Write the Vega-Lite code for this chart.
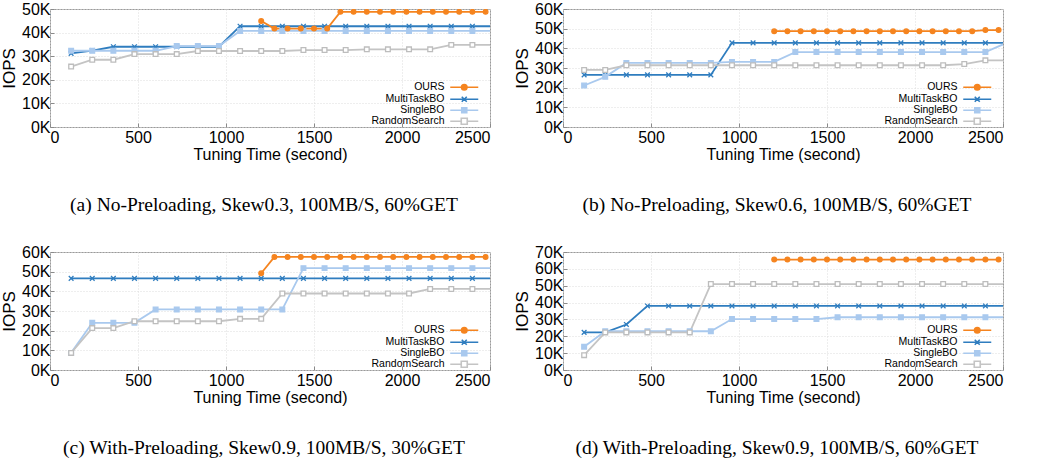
{
  "$schema": "https://vega.github.io/schema/vega-lite/v6.json",
  "padding": {"left": 0, "top": 0, "right": 0, "bottom": 0},
  "config": {
    "font": "Liberation Sans",
    "view": {"stroke": "#9a9a9a", "strokeWidth": 1},
    "axis": {
      "grid": true, "gridColor": "#dcdcdc", "gridDash": [1, 2], "gridWidth": 1,
      "domain": false, "tickColor": "#8a8a8a", "tickSize": -4,
      "labelFont": "Liberation Sans", "labelFontSize": 16, "labelColor": "black",
      "titleFont": "Liberation Sans", "titleFontSize": 16, "titleFontWeight": "normal", "titleColor": "black"
    },
    "axisX": {"labelPadding": 6, "titlePadding": 1, "format": "d"},
    "axisY": {"labelPadding": 4, "titlePadding": 3, "titleFontSize": 17},
    "title": {"font": "Liberation Serif", "fontSize": 19.5, "fontWeight": "normal", "color": "black", "orient": "bottom", "offset": 34, "dx": -6}
  },
  "datasets": {
    "a": [
      {"m":"MultiTaskBO","t":120,"v":31200},{"m":"MultiTaskBO","t":240,"v":32400},{"m":"MultiTaskBO","t":360,"v":34000},{"m":"MultiTaskBO","t":480,"v":34000},{"m":"MultiTaskBO","t":600,"v":34000},{"m":"MultiTaskBO","t":720,"v":34000},{"m":"MultiTaskBO","t":840,"v":34000},{"m":"MultiTaskBO","t":960,"v":34000},{"m":"MultiTaskBO","t":1080,"v":42700},{"m":"MultiTaskBO","t":1200,"v":42700},{"m":"MultiTaskBO","t":1320,"v":42700},{"m":"MultiTaskBO","t":1440,"v":42700},{"m":"MultiTaskBO","t":1560,"v":42700},{"m":"MultiTaskBO","t":1680,"v":42700},{"m":"MultiTaskBO","t":1800,"v":42700},{"m":"MultiTaskBO","t":1920,"v":42700},{"m":"MultiTaskBO","t":2040,"v":42700},{"m":"MultiTaskBO","t":2160,"v":42700},{"m":"MultiTaskBO","t":2280,"v":42700},{"m":"MultiTaskBO","t":2400,"v":42700},{"m":"MultiTaskBO","t":2500,"v":42700},
      {"m":"SingleBO","t":120,"v":32300},{"m":"SingleBO","t":240,"v":32300},{"m":"SingleBO","t":360,"v":32300},{"m":"SingleBO","t":480,"v":32300},{"m":"SingleBO","t":600,"v":32300},{"m":"SingleBO","t":720,"v":34300},{"m":"SingleBO","t":840,"v":34300},{"m":"SingleBO","t":960,"v":34300},{"m":"SingleBO","t":1080,"v":40700},{"m":"SingleBO","t":1200,"v":40700},{"m":"SingleBO","t":1320,"v":40700},{"m":"SingleBO","t":1440,"v":40700},{"m":"SingleBO","t":1560,"v":40700},{"m":"SingleBO","t":1680,"v":40700},{"m":"SingleBO","t":1800,"v":40700},{"m":"SingleBO","t":1920,"v":40700},{"m":"SingleBO","t":2040,"v":40700},{"m":"SingleBO","t":2160,"v":40700},{"m":"SingleBO","t":2280,"v":40700},{"m":"SingleBO","t":2400,"v":40700},{"m":"SingleBO","t":2500,"v":40700},
      {"m":"RandomSearch","t":120,"v":25600},{"m":"RandomSearch","t":240,"v":28500},{"m":"RandomSearch","t":360,"v":28500},{"m":"RandomSearch","t":480,"v":30900},{"m":"RandomSearch","t":600,"v":30900},{"m":"RandomSearch","t":720,"v":30900},{"m":"RandomSearch","t":840,"v":32200},{"m":"RandomSearch","t":960,"v":32200},{"m":"RandomSearch","t":1080,"v":32200},{"m":"RandomSearch","t":1200,"v":32200},{"m":"RandomSearch","t":1320,"v":32200},{"m":"RandomSearch","t":1440,"v":32600},{"m":"RandomSearch","t":1560,"v":32600},{"m":"RandomSearch","t":1680,"v":32600},{"m":"RandomSearch","t":1800,"v":32900},{"m":"RandomSearch","t":1920,"v":32900},{"m":"RandomSearch","t":2040,"v":32900},{"m":"RandomSearch","t":2160,"v":32900},{"m":"RandomSearch","t":2280,"v":34800},{"m":"RandomSearch","t":2400,"v":34800},{"m":"RandomSearch","t":2500,"v":34800},
      {"m":"OURS","t":1200,"v":44900},{"m":"OURS","t":1275,"v":41700},{"m":"OURS","t":1350,"v":41700},{"m":"OURS","t":1425,"v":41700},{"m":"OURS","t":1500,"v":41700},{"m":"OURS","t":1575,"v":41700},{"m":"OURS","t":1650,"v":48800},{"m":"OURS","t":1725,"v":48800},{"m":"OURS","t":1800,"v":48800},{"m":"OURS","t":1875,"v":48800},{"m":"OURS","t":1950,"v":48800},{"m":"OURS","t":2025,"v":48800},{"m":"OURS","t":2100,"v":48800},{"m":"OURS","t":2175,"v":48800},{"m":"OURS","t":2250,"v":48800},{"m":"OURS","t":2325,"v":48800},{"m":"OURS","t":2400,"v":48800},{"m":"OURS","t":2475,"v":48800}
    ],
    "b": [
      {"m":"MultiTaskBO","t":120,"v":26500},{"m":"MultiTaskBO","t":240,"v":26500},{"m":"MultiTaskBO","t":360,"v":26500},{"m":"MultiTaskBO","t":480,"v":26500},{"m":"MultiTaskBO","t":600,"v":26500},{"m":"MultiTaskBO","t":720,"v":26500},{"m":"MultiTaskBO","t":840,"v":26500},{"m":"MultiTaskBO","t":960,"v":42800},{"m":"MultiTaskBO","t":1080,"v":42800},{"m":"MultiTaskBO","t":1200,"v":42800},{"m":"MultiTaskBO","t":1320,"v":42800},{"m":"MultiTaskBO","t":1440,"v":42800},{"m":"MultiTaskBO","t":1560,"v":42800},{"m":"MultiTaskBO","t":1680,"v":42800},{"m":"MultiTaskBO","t":1800,"v":42800},{"m":"MultiTaskBO","t":1920,"v":42800},{"m":"MultiTaskBO","t":2040,"v":42800},{"m":"MultiTaskBO","t":2160,"v":42800},{"m":"MultiTaskBO","t":2280,"v":42800},{"m":"MultiTaskBO","t":2400,"v":42800},{"m":"MultiTaskBO","t":2500,"v":42800},
      {"m":"SingleBO","t":120,"v":21100},{"m":"SingleBO","t":240,"v":25500},{"m":"SingleBO","t":360,"v":32600},{"m":"SingleBO","t":480,"v":32600},{"m":"SingleBO","t":600,"v":32600},{"m":"SingleBO","t":720,"v":32600},{"m":"SingleBO","t":840,"v":32600},{"m":"SingleBO","t":960,"v":33100},{"m":"SingleBO","t":1080,"v":33100},{"m":"SingleBO","t":1200,"v":33100},{"m":"SingleBO","t":1320,"v":38100},{"m":"SingleBO","t":1440,"v":38100},{"m":"SingleBO","t":1560,"v":38100},{"m":"SingleBO","t":1680,"v":38100},{"m":"SingleBO","t":1800,"v":38100},{"m":"SingleBO","t":1920,"v":38100},{"m":"SingleBO","t":2040,"v":38100},{"m":"SingleBO","t":2160,"v":38100},{"m":"SingleBO","t":2280,"v":38100},{"m":"SingleBO","t":2400,"v":38100},{"m":"SingleBO","t":2500,"v":42000},
      {"m":"RandomSearch","t":120,"v":29000},{"m":"RandomSearch","t":240,"v":29000},{"m":"RandomSearch","t":360,"v":31400},{"m":"RandomSearch","t":480,"v":31400},{"m":"RandomSearch","t":600,"v":31400},{"m":"RandomSearch","t":720,"v":31400},{"m":"RandomSearch","t":840,"v":31400},{"m":"RandomSearch","t":960,"v":31400},{"m":"RandomSearch","t":1080,"v":31400},{"m":"RandomSearch","t":1200,"v":31400},{"m":"RandomSearch","t":1320,"v":31400},{"m":"RandomSearch","t":1440,"v":31400},{"m":"RandomSearch","t":1560,"v":31400},{"m":"RandomSearch","t":1680,"v":31400},{"m":"RandomSearch","t":1800,"v":31400},{"m":"RandomSearch","t":1920,"v":31400},{"m":"RandomSearch","t":2040,"v":31400},{"m":"RandomSearch","t":2160,"v":31400},{"m":"RandomSearch","t":2280,"v":32000},{"m":"RandomSearch","t":2400,"v":33900},{"m":"RandomSearch","t":2500,"v":33900},
      {"m":"OURS","t":1200,"v":48700},{"m":"OURS","t":1275,"v":48700},{"m":"OURS","t":1350,"v":48700},{"m":"OURS","t":1425,"v":48700},{"m":"OURS","t":1500,"v":48700},{"m":"OURS","t":1575,"v":48700},{"m":"OURS","t":1650,"v":48700},{"m":"OURS","t":1725,"v":48700},{"m":"OURS","t":1800,"v":48700},{"m":"OURS","t":1875,"v":48700},{"m":"OURS","t":1950,"v":48700},{"m":"OURS","t":2025,"v":48700},{"m":"OURS","t":2100,"v":48700},{"m":"OURS","t":2175,"v":48700},{"m":"OURS","t":2250,"v":48700},{"m":"OURS","t":2325,"v":48700},{"m":"OURS","t":2400,"v":49300},{"m":"OURS","t":2475,"v":49300}
    ],
    "c": [
      {"m":"MultiTaskBO","t":120,"v":46600},{"m":"MultiTaskBO","t":240,"v":46600},{"m":"MultiTaskBO","t":360,"v":46600},{"m":"MultiTaskBO","t":480,"v":46600},{"m":"MultiTaskBO","t":600,"v":46600},{"m":"MultiTaskBO","t":720,"v":46600},{"m":"MultiTaskBO","t":840,"v":46600},{"m":"MultiTaskBO","t":960,"v":46600},{"m":"MultiTaskBO","t":1080,"v":46600},{"m":"MultiTaskBO","t":1200,"v":46600},{"m":"MultiTaskBO","t":1320,"v":46600},{"m":"MultiTaskBO","t":1440,"v":46600},{"m":"MultiTaskBO","t":1560,"v":46600},{"m":"MultiTaskBO","t":1680,"v":46600},{"m":"MultiTaskBO","t":1800,"v":46600},{"m":"MultiTaskBO","t":1920,"v":46600},{"m":"MultiTaskBO","t":2040,"v":46600},{"m":"MultiTaskBO","t":2160,"v":46600},{"m":"MultiTaskBO","t":2280,"v":46600},{"m":"MultiTaskBO","t":2400,"v":46600},{"m":"MultiTaskBO","t":2500,"v":46600},
      {"m":"SingleBO","t":120,"v":8700},{"m":"SingleBO","t":240,"v":24000},{"m":"SingleBO","t":360,"v":24000},{"m":"SingleBO","t":480,"v":24000},{"m":"SingleBO","t":600,"v":30800},{"m":"SingleBO","t":720,"v":30800},{"m":"SingleBO","t":840,"v":30800},{"m":"SingleBO","t":960,"v":30800},{"m":"SingleBO","t":1080,"v":30800},{"m":"SingleBO","t":1200,"v":30800},{"m":"SingleBO","t":1320,"v":30800},{"m":"SingleBO","t":1440,"v":51800},{"m":"SingleBO","t":1560,"v":51800},{"m":"SingleBO","t":1680,"v":51800},{"m":"SingleBO","t":1800,"v":51800},{"m":"SingleBO","t":1920,"v":51800},{"m":"SingleBO","t":2040,"v":51800},{"m":"SingleBO","t":2160,"v":51800},{"m":"SingleBO","t":2280,"v":51800},{"m":"SingleBO","t":2400,"v":51800},{"m":"SingleBO","t":2500,"v":51800},
      {"m":"RandomSearch","t":120,"v":8700},{"m":"RandomSearch","t":240,"v":21300},{"m":"RandomSearch","t":360,"v":21300},{"m":"RandomSearch","t":480,"v":24800},{"m":"RandomSearch","t":600,"v":24800},{"m":"RandomSearch","t":720,"v":24800},{"m":"RandomSearch","t":840,"v":24800},{"m":"RandomSearch","t":960,"v":24800},{"m":"RandomSearch","t":1080,"v":26000},{"m":"RandomSearch","t":1200,"v":26000},{"m":"RandomSearch","t":1320,"v":38900},{"m":"RandomSearch","t":1440,"v":38900},{"m":"RandomSearch","t":1560,"v":38900},{"m":"RandomSearch","t":1680,"v":38900},{"m":"RandomSearch","t":1800,"v":38900},{"m":"RandomSearch","t":1920,"v":38900},{"m":"RandomSearch","t":2040,"v":38900},{"m":"RandomSearch","t":2160,"v":41200},{"m":"RandomSearch","t":2280,"v":41200},{"m":"RandomSearch","t":2400,"v":41200},{"m":"RandomSearch","t":2500,"v":41200},
      {"m":"OURS","t":1200,"v":49200},{"m":"OURS","t":1275,"v":57500},{"m":"OURS","t":1350,"v":57500},{"m":"OURS","t":1425,"v":57500},{"m":"OURS","t":1500,"v":57500},{"m":"OURS","t":1575,"v":57500},{"m":"OURS","t":1650,"v":57500},{"m":"OURS","t":1725,"v":57500},{"m":"OURS","t":1800,"v":57500},{"m":"OURS","t":1875,"v":57500},{"m":"OURS","t":1950,"v":57500},{"m":"OURS","t":2025,"v":57500},{"m":"OURS","t":2100,"v":57500},{"m":"OURS","t":2175,"v":57500},{"m":"OURS","t":2250,"v":57500},{"m":"OURS","t":2325,"v":57500},{"m":"OURS","t":2400,"v":57500},{"m":"OURS","t":2475,"v":57500}
    ],
    "d": [
      {"m":"MultiTaskBO","t":120,"v":22300},{"m":"MultiTaskBO","t":240,"v":22300},{"m":"MultiTaskBO","t":360,"v":27000},{"m":"MultiTaskBO","t":480,"v":38000},{"m":"MultiTaskBO","t":600,"v":38000},{"m":"MultiTaskBO","t":720,"v":38000},{"m":"MultiTaskBO","t":840,"v":38000},{"m":"MultiTaskBO","t":960,"v":38000},{"m":"MultiTaskBO","t":1080,"v":38000},{"m":"MultiTaskBO","t":1200,"v":38000},{"m":"MultiTaskBO","t":1320,"v":38000},{"m":"MultiTaskBO","t":1440,"v":38000},{"m":"MultiTaskBO","t":1560,"v":38000},{"m":"MultiTaskBO","t":1680,"v":38000},{"m":"MultiTaskBO","t":1800,"v":38000},{"m":"MultiTaskBO","t":1920,"v":38000},{"m":"MultiTaskBO","t":2040,"v":38000},{"m":"MultiTaskBO","t":2160,"v":38000},{"m":"MultiTaskBO","t":2280,"v":38000},{"m":"MultiTaskBO","t":2400,"v":38000},{"m":"MultiTaskBO","t":2500,"v":38000},
      {"m":"SingleBO","t":120,"v":13800},{"m":"SingleBO","t":240,"v":23000},{"m":"SingleBO","t":360,"v":23000},{"m":"SingleBO","t":480,"v":23000},{"m":"SingleBO","t":600,"v":23000},{"m":"SingleBO","t":720,"v":23000},{"m":"SingleBO","t":840,"v":23000},{"m":"SingleBO","t":960,"v":30200},{"m":"SingleBO","t":1080,"v":30200},{"m":"SingleBO","t":1200,"v":30200},{"m":"SingleBO","t":1320,"v":30200},{"m":"SingleBO","t":1440,"v":30200},{"m":"SingleBO","t":1560,"v":31300},{"m":"SingleBO","t":1680,"v":31300},{"m":"SingleBO","t":1800,"v":31300},{"m":"SingleBO","t":1920,"v":31300},{"m":"SingleBO","t":2040,"v":31300},{"m":"SingleBO","t":2160,"v":31300},{"m":"SingleBO","t":2280,"v":31300},{"m":"SingleBO","t":2400,"v":31300},{"m":"SingleBO","t":2500,"v":31300},
      {"m":"RandomSearch","t":120,"v":8800},{"m":"RandomSearch","t":240,"v":22300},{"m":"RandomSearch","t":360,"v":22300},{"m":"RandomSearch","t":480,"v":22300},{"m":"RandomSearch","t":600,"v":22300},{"m":"RandomSearch","t":720,"v":22300},{"m":"RandomSearch","t":840,"v":51000},{"m":"RandomSearch","t":960,"v":51000},{"m":"RandomSearch","t":1080,"v":51000},{"m":"RandomSearch","t":1200,"v":51000},{"m":"RandomSearch","t":1320,"v":51000},{"m":"RandomSearch","t":1440,"v":51000},{"m":"RandomSearch","t":1560,"v":51000},{"m":"RandomSearch","t":1680,"v":51000},{"m":"RandomSearch","t":1800,"v":51000},{"m":"RandomSearch","t":1920,"v":51000},{"m":"RandomSearch","t":2040,"v":51000},{"m":"RandomSearch","t":2160,"v":51000},{"m":"RandomSearch","t":2280,"v":51000},{"m":"RandomSearch","t":2400,"v":51000},{"m":"RandomSearch","t":2500,"v":51000},
      {"m":"OURS","t":1200,"v":65500},{"m":"OURS","t":1275,"v":65500},{"m":"OURS","t":1350,"v":65500},{"m":"OURS","t":1425,"v":65500},{"m":"OURS","t":1500,"v":65500},{"m":"OURS","t":1575,"v":65500},{"m":"OURS","t":1650,"v":65500},{"m":"OURS","t":1725,"v":65500},{"m":"OURS","t":1800,"v":65500},{"m":"OURS","t":1875,"v":65500},{"m":"OURS","t":1950,"v":65500},{"m":"OURS","t":2025,"v":65500},{"m":"OURS","t":2100,"v":65500},{"m":"OURS","t":2175,"v":65500},{"m":"OURS","t":2250,"v":65500},{"m":"OURS","t":2325,"v":65500},{"m":"OURS","t":2400,"v":65500},{"m":"OURS","t":2475,"v":65500}
    ]
  },
  "spacing": 28,
  "vconcat": [
    {
      "spacing": 22,
      "hconcat": [
        {
          "width": 440, "height": 118,
          "data": {"name": "a"},
          "title": {"text": "(a)  No-Preloading, Skew0.3, 100MB/S, 60%GET"},
          "encoding": {
            "x": {"field": "t", "type": "quantitative", "scale": {"domain": [0, 2500], "nice": false}, "axis": {"values": [0, 500, 1000, 1500, 2000, 2500], "title": "Tuning Time (second)"}},
            "y": {"field": "v", "type": "quantitative", "scale": {"domain": [0, 50000], "nice": false}, "axis": {"values": [0, 10000, 20000, 30000, 40000, 50000], "labelExpr": "(datum.value/1000) + 'K'", "title": "IOPS"}}
          },
          "resolve": {"scale": {"shape": "independent", "fill": "independent", "stroke": "independent"}},
          "layer": [
            {"mark": {"type": "line", "strokeWidth": 1.8, "clip": true},
             "encoding": {"color": {"field": "m", "type": "nominal", "scale": {"domain": ["OURS", "MultiTaskBO", "SingleBO", "RandomSearch"], "range": ["#f5841f", "#2f7dbf", "#a9c9ee", "#c4c4c4"]}, "legend": null}, "order": {"field": "t"}}},
            {"mark": {"type": "point", "strokeWidth": 1.3, "opacity": 1, "clip": true},
             "transform": [{"filter": "datum.m == 'OURS' || datum.t < 2500"}],
             "encoding": {
               "shape": {"field": "m", "type": "nominal", "scale": {"domain": ["OURS", "MultiTaskBO", "SingleBO", "RandomSearch"], "range": ["circle", "M-1,-1L1,1M1,-1L-1,1", "square", "square"]}, "legend": null},
               "fill": {"field": "m", "type": "nominal", "scale": {"domain": ["OURS", "MultiTaskBO", "SingleBO", "RandomSearch"], "range": ["#f5841f", "#2f7dbf", "#a9c9ee", "#ffffff"]}, "legend": null},
               "stroke": {"field": "m", "type": "nominal", "scale": {"domain": ["OURS", "MultiTaskBO", "SingleBO", "RandomSearch"], "range": ["#f5841f", "#2f7dbf", "#a9c9ee", "#bdbdbd"]}, "legend": null},
               "size": {"field": "m", "type": "nominal", "scale": {"domain": ["OURS", "MultiTaskBO", "SingleBO", "RandomSearch"], "range": [22, 22, 20, 30]}, "legend": null}
             }},
            {"mark": {"type": "point", "opacity": 0, "strokeWidth": 1.6},
             "transform": [{"filter": "datum.t == 1200"}],
             "encoding": {
               "shape": {"field": "m", "type": "nominal", "scale": {"domain": ["OURS", "MultiTaskBO", "SingleBO", "RandomSearch"], "range": ["M-5.6,0H-1.1A1.1,1.1,0,1,1,1.1,0H5.6M1.1,0A1.1,1.1,0,1,1,-1.1,0Z", "M-5.6,0H5.6M-1,-1L1,1M1,-1L-1,1", "M-5.6,0H5.6M-1,-1H1V1H-1Z", "M-5.6,0H-1.2M1.2,0H5.6M-1.2,-1.2H1.2V1.2H-1.2Z"]},
                 "legend": {"title": null, "orient": "none", "legendX": 409, "legendY": 73, "padding": 0, "rowPadding": -3.5, "symbolSize": 25, "symbolStrokeWidth": 1.6, "symbolOpacity": 1, "labelFont": "Liberation Sans", "labelFontSize": 10.5, "labelColor": "black", "labelAlign": "right", "labelOffset": -25}},
               "fill": {"field": "m", "type": "nominal", "scale": {"domain": ["OURS", "MultiTaskBO", "SingleBO", "RandomSearch"], "range": ["#f5841f", "#2f7dbf", "#a9c9ee", "#ffffff"]}, "legend": {"title": null}},
               "stroke": {"field": "m", "type": "nominal", "scale": {"domain": ["OURS", "MultiTaskBO", "SingleBO", "RandomSearch"], "range": ["#f5841f", "#2f7dbf", "#a9c9ee", "#c4c4c4"]}, "legend": {"title": null}}
             }}
          ]
        },
        {
          "width": 440, "height": 118,
          "data": {"name": "b"},
          "title": {"text": "(b)  No-Preloading, Skew0.6, 100MB/S, 60%GET"},
          "encoding": {
            "x": {"field": "t", "type": "quantitative", "scale": {"domain": [0, 2500], "nice": false}, "axis": {"values": [0, 500, 1000, 1500, 2000, 2500], "title": "Tuning Time (second)"}},
            "y": {"field": "v", "type": "quantitative", "scale": {"domain": [0, 60000], "nice": false}, "axis": {"values": [0, 10000, 20000, 30000, 40000, 50000, 60000], "labelExpr": "(datum.value/1000) + 'K'", "title": "IOPS"}}
          },
          "resolve": {"scale": {"shape": "independent", "fill": "independent", "stroke": "independent"}},
          "layer": [
            {"mark": {"type": "line", "strokeWidth": 1.8, "clip": true},
             "encoding": {"color": {"field": "m", "type": "nominal", "scale": {"domain": ["OURS", "MultiTaskBO", "SingleBO", "RandomSearch"], "range": ["#f5841f", "#2f7dbf", "#a9c9ee", "#c4c4c4"]}, "legend": null}, "order": {"field": "t"}}},
            {"mark": {"type": "point", "strokeWidth": 1.3, "opacity": 1, "clip": true},
             "transform": [{"filter": "datum.m == 'OURS' || datum.t < 2500"}],
             "encoding": {
               "shape": {"field": "m", "type": "nominal", "scale": {"domain": ["OURS", "MultiTaskBO", "SingleBO", "RandomSearch"], "range": ["circle", "M-1,-1L1,1M1,-1L-1,1", "square", "square"]}, "legend": null},
               "fill": {"field": "m", "type": "nominal", "scale": {"domain": ["OURS", "MultiTaskBO", "SingleBO", "RandomSearch"], "range": ["#f5841f", "#2f7dbf", "#a9c9ee", "#ffffff"]}, "legend": null},
               "stroke": {"field": "m", "type": "nominal", "scale": {"domain": ["OURS", "MultiTaskBO", "SingleBO", "RandomSearch"], "range": ["#f5841f", "#2f7dbf", "#a9c9ee", "#bdbdbd"]}, "legend": null},
               "size": {"field": "m", "type": "nominal", "scale": {"domain": ["OURS", "MultiTaskBO", "SingleBO", "RandomSearch"], "range": [22, 22, 20, 30]}, "legend": null}
             }},
            {"mark": {"type": "point", "opacity": 0, "strokeWidth": 1.6},
             "transform": [{"filter": "datum.t == 1200"}],
             "encoding": {
               "shape": {"field": "m", "type": "nominal", "scale": {"domain": ["OURS", "MultiTaskBO", "SingleBO", "RandomSearch"], "range": ["M-5.6,0H-1.1A1.1,1.1,0,1,1,1.1,0H5.6M1.1,0A1.1,1.1,0,1,1,-1.1,0Z", "M-5.6,0H5.6M-1,-1L1,1M1,-1L-1,1", "M-5.6,0H5.6M-1,-1H1V1H-1Z", "M-5.6,0H-1.2M1.2,0H5.6M-1.2,-1.2H1.2V1.2H-1.2Z"]},
                 "legend": {"title": null, "orient": "none", "legendX": 409, "legendY": 73, "padding": 0, "rowPadding": -3.5, "symbolSize": 25, "symbolStrokeWidth": 1.6, "symbolOpacity": 1, "labelFont": "Liberation Sans", "labelFontSize": 10.5, "labelColor": "black", "labelAlign": "right", "labelOffset": -25}},
               "fill": {"field": "m", "type": "nominal", "scale": {"domain": ["OURS", "MultiTaskBO", "SingleBO", "RandomSearch"], "range": ["#f5841f", "#2f7dbf", "#a9c9ee", "#ffffff"]}, "legend": {"title": null}},
               "stroke": {"field": "m", "type": "nominal", "scale": {"domain": ["OURS", "MultiTaskBO", "SingleBO", "RandomSearch"], "range": ["#f5841f", "#2f7dbf", "#a9c9ee", "#c4c4c4"]}, "legend": {"title": null}}
             }}
          ]
        }
      ]
    },
    {
      "spacing": 22,
      "hconcat": [
        {
          "width": 440, "height": 118,
          "data": {"name": "c"},
          "title": {"text": "(c)  With-Preloading, Skew0.9, 100MB/S, 30%GET"},
          "encoding": {
            "x": {"field": "t", "type": "quantitative", "scale": {"domain": [0, 2500], "nice": false}, "axis": {"values": [0, 500, 1000, 1500, 2000, 2500], "title": "Tuning Time (second)"}},
            "y": {"field": "v", "type": "quantitative", "scale": {"domain": [0, 60000], "nice": false}, "axis": {"values": [0, 10000, 20000, 30000, 40000, 50000, 60000], "labelExpr": "(datum.value/1000) + 'K'", "title": "IOPS"}}
          },
          "resolve": {"scale": {"shape": "independent", "fill": "independent", "stroke": "independent"}},
          "layer": [
            {"mark": {"type": "line", "strokeWidth": 1.8, "clip": true},
             "encoding": {"color": {"field": "m", "type": "nominal", "scale": {"domain": ["OURS", "MultiTaskBO", "SingleBO", "RandomSearch"], "range": ["#f5841f", "#2f7dbf", "#a9c9ee", "#c4c4c4"]}, "legend": null}, "order": {"field": "t"}}},
            {"mark": {"type": "point", "strokeWidth": 1.3, "opacity": 1, "clip": true},
             "transform": [{"filter": "datum.m == 'OURS' || datum.t < 2500"}],
             "encoding": {
               "shape": {"field": "m", "type": "nominal", "scale": {"domain": ["OURS", "MultiTaskBO", "SingleBO", "RandomSearch"], "range": ["circle", "M-1,-1L1,1M1,-1L-1,1", "square", "square"]}, "legend": null},
               "fill": {"field": "m", "type": "nominal", "scale": {"domain": ["OURS", "MultiTaskBO", "SingleBO", "RandomSearch"], "range": ["#f5841f", "#2f7dbf", "#a9c9ee", "#ffffff"]}, "legend": null},
               "stroke": {"field": "m", "type": "nominal", "scale": {"domain": ["OURS", "MultiTaskBO", "SingleBO", "RandomSearch"], "range": ["#f5841f", "#2f7dbf", "#a9c9ee", "#bdbdbd"]}, "legend": null},
               "size": {"field": "m", "type": "nominal", "scale": {"domain": ["OURS", "MultiTaskBO", "SingleBO", "RandomSearch"], "range": [22, 22, 20, 30]}, "legend": null}
             }},
            {"mark": {"type": "point", "opacity": 0, "strokeWidth": 1.6},
             "transform": [{"filter": "datum.t == 1200"}],
             "encoding": {
               "shape": {"field": "m", "type": "nominal", "scale": {"domain": ["OURS", "MultiTaskBO", "SingleBO", "RandomSearch"], "range": ["M-5.6,0H-1.1A1.1,1.1,0,1,1,1.1,0H5.6M1.1,0A1.1,1.1,0,1,1,-1.1,0Z", "M-5.6,0H5.6M-1,-1L1,1M1,-1L-1,1", "M-5.6,0H5.6M-1,-1H1V1H-1Z", "M-5.6,0H-1.2M1.2,0H5.6M-1.2,-1.2H1.2V1.2H-1.2Z"]},
                 "legend": {"title": null, "orient": "none", "legendX": 409, "legendY": 73, "padding": 0, "rowPadding": -3.5, "symbolSize": 25, "symbolStrokeWidth": 1.6, "symbolOpacity": 1, "labelFont": "Liberation Sans", "labelFontSize": 10.5, "labelColor": "black", "labelAlign": "right", "labelOffset": -25}},
               "fill": {"field": "m", "type": "nominal", "scale": {"domain": ["OURS", "MultiTaskBO", "SingleBO", "RandomSearch"], "range": ["#f5841f", "#2f7dbf", "#a9c9ee", "#ffffff"]}, "legend": {"title": null}},
               "stroke": {"field": "m", "type": "nominal", "scale": {"domain": ["OURS", "MultiTaskBO", "SingleBO", "RandomSearch"], "range": ["#f5841f", "#2f7dbf", "#a9c9ee", "#c4c4c4"]}, "legend": {"title": null}}
             }}
          ]
        },
        {
          "width": 440, "height": 118,
          "data": {"name": "d"},
          "title": {"text": "(d)  With-Preloading, Skew0.9, 100MB/S, 60%GET"},
          "encoding": {
            "x": {"field": "t", "type": "quantitative", "scale": {"domain": [0, 2500], "nice": false}, "axis": {"values": [0, 500, 1000, 1500, 2000, 2500], "title": "Tuning Time (second)"}},
            "y": {"field": "v", "type": "quantitative", "scale": {"domain": [0, 70000], "nice": false}, "axis": {"values": [0, 10000, 20000, 30000, 40000, 50000, 60000, 70000], "labelExpr": "(datum.value/1000) + 'K'", "title": "IOPS"}}
          },
          "resolve": {"scale": {"shape": "independent", "fill": "independent", "stroke": "independent"}},
          "layer": [
            {"mark": {"type": "line", "strokeWidth": 1.8, "clip": true},
             "encoding": {"color": {"field": "m", "type": "nominal", "scale": {"domain": ["OURS", "MultiTaskBO", "SingleBO", "RandomSearch"], "range": ["#f5841f", "#2f7dbf", "#a9c9ee", "#c4c4c4"]}, "legend": null}, "order": {"field": "t"}}},
            {"mark": {"type": "point", "strokeWidth": 1.3, "opacity": 1, "clip": true},
             "transform": [{"filter": "datum.m == 'OURS' || datum.t < 2500"}],
             "encoding": {
               "shape": {"field": "m", "type": "nominal", "scale": {"domain": ["OURS", "MultiTaskBO", "SingleBO", "RandomSearch"], "range": ["circle", "M-1,-1L1,1M1,-1L-1,1", "square", "square"]}, "legend": null},
               "fill": {"field": "m", "type": "nominal", "scale": {"domain": ["OURS", "MultiTaskBO", "SingleBO", "RandomSearch"], "range": ["#f5841f", "#2f7dbf", "#a9c9ee", "#ffffff"]}, "legend": null},
               "stroke": {"field": "m", "type": "nominal", "scale": {"domain": ["OURS", "MultiTaskBO", "SingleBO", "RandomSearch"], "range": ["#f5841f", "#2f7dbf", "#a9c9ee", "#bdbdbd"]}, "legend": null},
               "size": {"field": "m", "type": "nominal", "scale": {"domain": ["OURS", "MultiTaskBO", "SingleBO", "RandomSearch"], "range": [22, 22, 20, 30]}, "legend": null}
             }},
            {"mark": {"type": "point", "opacity": 0, "strokeWidth": 1.6},
             "transform": [{"filter": "datum.t == 1200"}],
             "encoding": {
               "shape": {"field": "m", "type": "nominal", "scale": {"domain": ["OURS", "MultiTaskBO", "SingleBO", "RandomSearch"], "range": ["M-5.6,0H-1.1A1.1,1.1,0,1,1,1.1,0H5.6M1.1,0A1.1,1.1,0,1,1,-1.1,0Z", "M-5.6,0H5.6M-1,-1L1,1M1,-1L-1,1", "M-5.6,0H5.6M-1,-1H1V1H-1Z", "M-5.6,0H-1.2M1.2,0H5.6M-1.2,-1.2H1.2V1.2H-1.2Z"]},
                 "legend": {"title": null, "orient": "none", "legendX": 409, "legendY": 73, "padding": 0, "rowPadding": -3.5, "symbolSize": 25, "symbolStrokeWidth": 1.6, "symbolOpacity": 1, "labelFont": "Liberation Sans", "labelFontSize": 10.5, "labelColor": "black", "labelAlign": "right", "labelOffset": -25}},
               "fill": {"field": "m", "type": "nominal", "scale": {"domain": ["OURS", "MultiTaskBO", "SingleBO", "RandomSearch"], "range": ["#f5841f", "#2f7dbf", "#a9c9ee", "#ffffff"]}, "legend": {"title": null}},
               "stroke": {"field": "m", "type": "nominal", "scale": {"domain": ["OURS", "MultiTaskBO", "SingleBO", "RandomSearch"], "range": ["#f5841f", "#2f7dbf", "#a9c9ee", "#c4c4c4"]}, "legend": {"title": null}}
             }}
          ]
        }
      ]
    }
  ]
}
